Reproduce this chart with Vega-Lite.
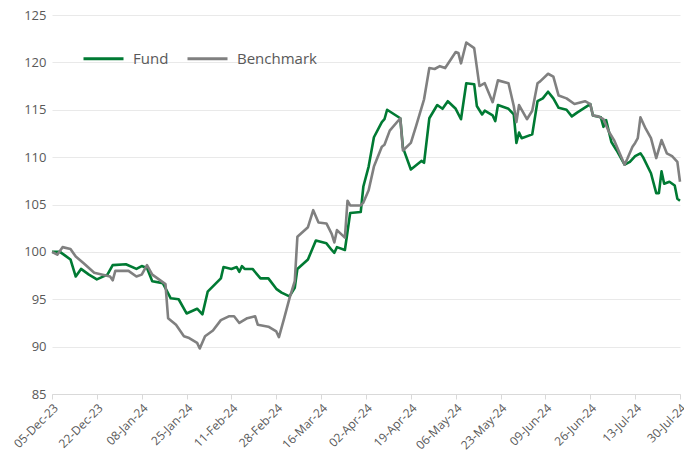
{
  "$schema": "https://vega.github.io/schema/vega-lite/v6.json",
  "width": 628,
  "height": 379,
  "autosize": {"type": "none"},
  "padding": {"left": 52, "top": 15, "right": 4, "bottom": 66},
  "background": "white",
  "config": {"view": {"stroke": null}, "font": "Open Sans"},
  "data": {"values": [
    {"d":"2023-12-05","s":"Fund","v":100},
    {"d":"2023-12-08","s":"Fund","v":100.0},
    {"d":"2023-12-10","s":"Fund","v":99.6},
    {"d":"2023-12-12","s":"Fund","v":99.2},
    {"d":"2023-12-14","s":"Fund","v":97.4},
    {"d":"2023-12-16","s":"Fund","v":98.2},
    {"d":"2023-12-19","s":"Fund","v":97.6},
    {"d":"2023-12-22","s":"Fund","v":97.1},
    {"d":"2023-12-26","s":"Fund","v":97.6},
    {"d":"2023-12-28","s":"Fund","v":98.6},
    {"d":"2024-01-02","s":"Fund","v":98.7},
    {"d":"2024-01-06","s":"Fund","v":98.2},
    {"d":"2024-01-08","s":"Fund","v":98.5},
    {"d":"2024-01-10","s":"Fund","v":98.3},
    {"d":"2024-01-12","s":"Fund","v":96.9},
    {"d":"2024-01-16","s":"Fund","v":96.7},
    {"d":"2024-01-19","s":"Fund","v":95.1},
    {"d":"2024-01-22","s":"Fund","v":95.0},
    {"d":"2024-01-25","s":"Fund","v":93.5},
    {"d":"2024-01-29","s":"Fund","v":94.0},
    {"d":"2024-01-31","s":"Fund","v":93.4},
    {"d":"2024-02-02","s":"Fund","v":95.8},
    {"d":"2024-02-07","s":"Fund","v":97.2},
    {"d":"2024-02-08","s":"Fund","v":98.4},
    {"d":"2024-02-11","s":"Fund","v":98.2},
    {"d":"2024-02-13","s":"Fund","v":98.4},
    {"d":"2024-02-14","s":"Fund","v":97.9},
    {"d":"2024-02-15","s":"Fund","v":98.5},
    {"d":"2024-02-16","s":"Fund","v":98.2},
    {"d":"2024-02-19","s":"Fund","v":98.2},
    {"d":"2024-02-22","s":"Fund","v":97.2},
    {"d":"2024-02-25","s":"Fund","v":97.2},
    {"d":"2024-02-28","s":"Fund","v":96.1},
    {"d":"2024-03-01","s":"Fund","v":95.7},
    {"d":"2024-03-04","s":"Fund","v":95.3},
    {"d":"2024-03-06","s":"Fund","v":96.2},
    {"d":"2024-03-07","s":"Fund","v":98.2},
    {"d":"2024-03-11","s":"Fund","v":99.2},
    {"d":"2024-03-14","s":"Fund","v":101.2},
    {"d":"2024-03-18","s":"Fund","v":100.9},
    {"d":"2024-03-20","s":"Fund","v":100.2},
    {"d":"2024-03-21","s":"Fund","v":99.9},
    {"d":"2024-03-22","s":"Fund","v":100.5},
    {"d":"2024-03-25","s":"Fund","v":100.2},
    {"d":"2024-03-27","s":"Fund","v":104.1},
    {"d":"2024-03-31","s":"Fund","v":104.2},
    {"d":"2024-04-01","s":"Fund","v":106.9},
    {"d":"2024-04-03","s":"Fund","v":109.0},
    {"d":"2024-04-05","s":"Fund","v":112.1},
    {"d":"2024-04-08","s":"Fund","v":113.7},
    {"d":"2024-04-09","s":"Fund","v":114.0},
    {"d":"2024-04-10","s":"Fund","v":115.0},
    {"d":"2024-04-15","s":"Fund","v":114.1},
    {"d":"2024-04-16","s":"Fund","v":111.0},
    {"d":"2024-04-19","s":"Fund","v":108.7},
    {"d":"2024-04-23","s":"Fund","v":109.6},
    {"d":"2024-04-24","s":"Fund","v":109.4},
    {"d":"2024-04-26","s":"Fund","v":114.1},
    {"d":"2024-04-29","s":"Fund","v":115.5},
    {"d":"2024-05-01","s":"Fund","v":115.1},
    {"d":"2024-05-03","s":"Fund","v":115.9},
    {"d":"2024-05-06","s":"Fund","v":115.1},
    {"d":"2024-05-08","s":"Fund","v":114.0},
    {"d":"2024-05-10","s":"Fund","v":117.8},
    {"d":"2024-05-13","s":"Fund","v":117.7},
    {"d":"2024-05-14","s":"Fund","v":115.4},
    {"d":"2024-05-16","s":"Fund","v":114.5},
    {"d":"2024-05-17","s":"Fund","v":114.9},
    {"d":"2024-05-20","s":"Fund","v":114.4},
    {"d":"2024-05-21","s":"Fund","v":113.8},
    {"d":"2024-05-22","s":"Fund","v":115.5},
    {"d":"2024-05-26","s":"Fund","v":115.1},
    {"d":"2024-05-28","s":"Fund","v":114.5},
    {"d":"2024-05-29","s":"Fund","v":111.5},
    {"d":"2024-05-30","s":"Fund","v":112.6},
    {"d":"2024-05-31","s":"Fund","v":112.0},
    {"d":"2024-06-04","s":"Fund","v":112.4},
    {"d":"2024-06-06","s":"Fund","v":115.9},
    {"d":"2024-06-08","s":"Fund","v":116.2},
    {"d":"2024-06-10","s":"Fund","v":116.9},
    {"d":"2024-06-12","s":"Fund","v":116.2},
    {"d":"2024-06-14","s":"Fund","v":115.2},
    {"d":"2024-06-17","s":"Fund","v":115.0},
    {"d":"2024-06-19","s":"Fund","v":114.3},
    {"d":"2024-06-21","s":"Fund","v":114.7},
    {"d":"2024-06-26","s":"Fund","v":115.6},
    {"d":"2024-06-27","s":"Fund","v":114.4},
    {"d":"2024-06-30","s":"Fund","v":114.2},
    {"d":"2024-07-01","s":"Fund","v":113.2},
    {"d":"2024-07-02","s":"Fund","v":113.9},
    {"d":"2024-07-04","s":"Fund","v":111.6},
    {"d":"2024-07-06","s":"Fund","v":110.7},
    {"d":"2024-07-09","s":"Fund","v":109.2},
    {"d":"2024-07-11","s":"Fund","v":109.5},
    {"d":"2024-07-13","s":"Fund","v":110.1},
    {"d":"2024-07-15","s":"Fund","v":110.4},
    {"d":"2024-07-16","s":"Fund","v":110.0},
    {"d":"2024-07-19","s":"Fund","v":108.3},
    {"d":"2024-07-21","s":"Fund","v":106.2},
    {"d":"2024-07-22","s":"Fund","v":106.2},
    {"d":"2024-07-23","s":"Fund","v":108.5},
    {"d":"2024-07-24","s":"Fund","v":107.2},
    {"d":"2024-07-26","s":"Fund","v":107.4},
    {"d":"2024-07-28","s":"Fund","v":107.0},
    {"d":"2024-07-29","s":"Fund","v":105.6},
    {"d":"2024-07-30","s":"Fund","v":105.4},
    {"d":"2023-12-05","s":"Benchmark","v":100},
    {"d":"2023-12-07","s":"Benchmark","v":99.7},
    {"d":"2023-12-09","s":"Benchmark","v":100.5},
    {"d":"2023-12-12","s":"Benchmark","v":100.3},
    {"d":"2023-12-14","s":"Benchmark","v":99.5},
    {"d":"2023-12-17","s":"Benchmark","v":98.8},
    {"d":"2023-12-21","s":"Benchmark","v":97.8},
    {"d":"2023-12-27","s":"Benchmark","v":97.4},
    {"d":"2023-12-28","s":"Benchmark","v":97.0},
    {"d":"2023-12-29","s":"Benchmark","v":98.0},
    {"d":"2024-01-03","s":"Benchmark","v":98.0},
    {"d":"2024-01-06","s":"Benchmark","v":97.4},
    {"d":"2024-01-08","s":"Benchmark","v":97.6},
    {"d":"2024-01-10","s":"Benchmark","v":98.6},
    {"d":"2024-01-12","s":"Benchmark","v":97.6},
    {"d":"2024-01-14","s":"Benchmark","v":97.2},
    {"d":"2024-01-17","s":"Benchmark","v":96.6},
    {"d":"2024-01-18","s":"Benchmark","v":93.0},
    {"d":"2024-01-21","s":"Benchmark","v":92.3},
    {"d":"2024-01-24","s":"Benchmark","v":91.1},
    {"d":"2024-01-26","s":"Benchmark","v":90.9},
    {"d":"2024-01-29","s":"Benchmark","v":90.4},
    {"d":"2024-01-30","s":"Benchmark","v":89.8},
    {"d":"2024-02-01","s":"Benchmark","v":91.1},
    {"d":"2024-02-04","s":"Benchmark","v":91.7},
    {"d":"2024-02-07","s":"Benchmark","v":92.8},
    {"d":"2024-02-10","s":"Benchmark","v":93.2},
    {"d":"2024-02-12","s":"Benchmark","v":93.2},
    {"d":"2024-02-14","s":"Benchmark","v":92.5},
    {"d":"2024-02-17","s":"Benchmark","v":93.0},
    {"d":"2024-02-20","s":"Benchmark","v":93.2},
    {"d":"2024-02-21","s":"Benchmark","v":92.3},
    {"d":"2024-02-25","s":"Benchmark","v":92.1},
    {"d":"2024-02-28","s":"Benchmark","v":91.6},
    {"d":"2024-02-29","s":"Benchmark","v":91.0},
    {"d":"2024-03-02","s":"Benchmark","v":93.0},
    {"d":"2024-03-04","s":"Benchmark","v":95.1},
    {"d":"2024-03-06","s":"Benchmark","v":96.9},
    {"d":"2024-03-07","s":"Benchmark","v":101.6},
    {"d":"2024-03-11","s":"Benchmark","v":102.6},
    {"d":"2024-03-13","s":"Benchmark","v":104.4},
    {"d":"2024-03-15","s":"Benchmark","v":103.1},
    {"d":"2024-03-18","s":"Benchmark","v":103.0},
    {"d":"2024-03-20","s":"Benchmark","v":101.9},
    {"d":"2024-03-21","s":"Benchmark","v":101.0},
    {"d":"2024-03-22","s":"Benchmark","v":102.3},
    {"d":"2024-03-25","s":"Benchmark","v":101.5},
    {"d":"2024-03-26","s":"Benchmark","v":105.4},
    {"d":"2024-03-27","s":"Benchmark","v":104.9},
    {"d":"2024-03-31","s":"Benchmark","v":104.9},
    {"d":"2024-04-01","s":"Benchmark","v":105.2},
    {"d":"2024-04-03","s":"Benchmark","v":106.5},
    {"d":"2024-04-05","s":"Benchmark","v":109.0},
    {"d":"2024-04-08","s":"Benchmark","v":111.1},
    {"d":"2024-04-09","s":"Benchmark","v":111.3},
    {"d":"2024-04-11","s":"Benchmark","v":112.8},
    {"d":"2024-04-15","s":"Benchmark","v":114.1},
    {"d":"2024-04-16","s":"Benchmark","v":110.7},
    {"d":"2024-04-19","s":"Benchmark","v":111.5},
    {"d":"2024-04-21","s":"Benchmark","v":113.3},
    {"d":"2024-04-24","s":"Benchmark","v":116.1},
    {"d":"2024-04-26","s":"Benchmark","v":119.4},
    {"d":"2024-04-28","s":"Benchmark","v":119.3},
    {"d":"2024-04-30","s":"Benchmark","v":119.6},
    {"d":"2024-05-02","s":"Benchmark","v":119.4},
    {"d":"2024-05-06","s":"Benchmark","v":121.1},
    {"d":"2024-05-07","s":"Benchmark","v":121.0},
    {"d":"2024-05-08","s":"Benchmark","v":119.9},
    {"d":"2024-05-10","s":"Benchmark","v":122.1},
    {"d":"2024-05-13","s":"Benchmark","v":121.5},
    {"d":"2024-05-15","s":"Benchmark","v":117.5},
    {"d":"2024-05-17","s":"Benchmark","v":117.8},
    {"d":"2024-05-20","s":"Benchmark","v":115.8},
    {"d":"2024-05-22","s":"Benchmark","v":118.1},
    {"d":"2024-05-26","s":"Benchmark","v":117.8},
    {"d":"2024-05-28","s":"Benchmark","v":115.4},
    {"d":"2024-05-29","s":"Benchmark","v":113.7},
    {"d":"2024-05-30","s":"Benchmark","v":115.5},
    {"d":"2024-06-02","s":"Benchmark","v":114.0},
    {"d":"2024-06-04","s":"Benchmark","v":114.9},
    {"d":"2024-06-06","s":"Benchmark","v":117.8},
    {"d":"2024-06-07","s":"Benchmark","v":118.0},
    {"d":"2024-06-10","s":"Benchmark","v":118.8},
    {"d":"2024-06-12","s":"Benchmark","v":118.5},
    {"d":"2024-06-14","s":"Benchmark","v":116.5},
    {"d":"2024-06-17","s":"Benchmark","v":116.2},
    {"d":"2024-06-20","s":"Benchmark","v":115.6},
    {"d":"2024-06-24","s":"Benchmark","v":115.9},
    {"d":"2024-06-26","s":"Benchmark","v":115.6},
    {"d":"2024-06-27","s":"Benchmark","v":114.4},
    {"d":"2024-06-29","s":"Benchmark","v":114.3},
    {"d":"2024-07-01","s":"Benchmark","v":114.0},
    {"d":"2024-07-03","s":"Benchmark","v":112.7},
    {"d":"2024-07-05","s":"Benchmark","v":111.8},
    {"d":"2024-07-09","s":"Benchmark","v":109.2},
    {"d":"2024-07-10","s":"Benchmark","v":109.8},
    {"d":"2024-07-12","s":"Benchmark","v":111.1},
    {"d":"2024-07-13","s":"Benchmark","v":111.5},
    {"d":"2024-07-14","s":"Benchmark","v":112.0},
    {"d":"2024-07-15","s":"Benchmark","v":114.2},
    {"d":"2024-07-17","s":"Benchmark","v":113.0},
    {"d":"2024-07-19","s":"Benchmark","v":112.0},
    {"d":"2024-07-21","s":"Benchmark","v":109.9},
    {"d":"2024-07-23","s":"Benchmark","v":111.8},
    {"d":"2024-07-25","s":"Benchmark","v":110.4},
    {"d":"2024-07-27","s":"Benchmark","v":110.1},
    {"d":"2024-07-29","s":"Benchmark","v":109.5},
    {"d":"2024-07-30","s":"Benchmark","v":107.4}
  ]},
  "mark": {"type": "line", "strokeWidth": 2.6, "strokeJoin": "round"},
  "encoding": {
    "x": {
      "field": "d", "type": "temporal",
      "scale": {"type": "utc", "domain": [{"year": 2023, "month": 12, "date": 5, "utc": true}, {"year": 2024, "month": 7, "date": 30, "utc": true}], "nice": false},
      "axis": {
        "title": null,
        "labelExpr": "utcFormat(datum.value, '%d-%b-%y')",
        "values": [
          {"year": 2023, "month": 12, "date": 5, "utc": true},
          {"year": 2023, "month": 12, "date": 22, "utc": true},
          {"year": 2024, "month": 1, "date": 8, "utc": true},
          {"year": 2024, "month": 1, "date": 25, "utc": true},
          {"year": 2024, "month": 2, "date": 11, "utc": true},
          {"year": 2024, "month": 2, "date": 28, "utc": true},
          {"year": 2024, "month": 3, "date": 16, "utc": true},
          {"year": 2024, "month": 4, "date": 2, "utc": true},
          {"year": 2024, "month": 4, "date": 19, "utc": true},
          {"year": 2024, "month": 5, "date": 6, "utc": true},
          {"year": 2024, "month": 5, "date": 23, "utc": true},
          {"year": 2024, "month": 6, "date": 9, "utc": true},
          {"year": 2024, "month": 6, "date": 26, "utc": true},
          {"year": 2024, "month": 7, "date": 13, "utc": true},
          {"year": 2024, "month": 7, "date": 30, "utc": true}
        ],
        "labelAngle": -45,
        "labelAlign": "right",
        "labelBaseline": "top",
        "labelFontSize": 12,
        "labelColor": "#595959",
        "labelFont": "Open Sans",
        "labelPadding": 3,
        "labelOverlap": false,
        "labelFlush": false,
        "grid": false,
        "domainColor": "#d9d9d9",
        "tickColor": "#d9d9d9",
        "tickSize": 5
      }
    },
    "y": {
      "field": "v", "type": "quantitative",
      "scale": {"domain": [85, 125], "nice": false, "zero": false},
      "axis": {
        "title": null,
        "values": [85, 90, 95, 100, 105, 110, 115, 120, 125],
        "labelFontSize": 13,
        "labelColor": "#595959",
        "labelFont": "Open Sans",
        "labelPadding": 6,
        "domain": false,
        "ticks": false,
        "gridColor": "#e9e9e9",
        "gridWidth": 1
      }
    },
    "color": {
      "field": "s", "type": "nominal",
      "scale": {"domain": ["Fund", "Benchmark"], "range": ["#007A33", "#808080"]},
      "legend": {
        "title": null,
        "orient": "none",
        "legendX": 30,
        "legendY": 22,
        "direction": "horizontal",
        "symbolType": "stroke",
        "symbolSize": 1600,
        "symbolStrokeWidth": 3,
        "labelFontSize": 15,
        "labelColor": "#595959",
        "labelFont": "Open Sans",
        "columnPadding": 12,
        "labelOffset": 8
      }
    }
  }
}
